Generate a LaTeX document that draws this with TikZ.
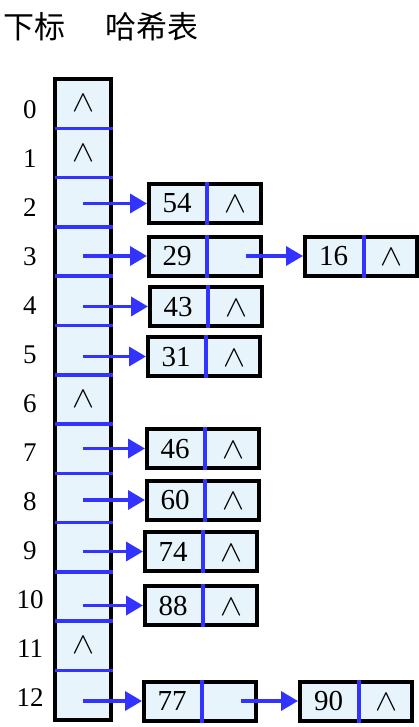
\documentclass[tikz,border=0pt]{standalone}
\usepackage{fontspec}
\setmainfont{Liberation Serif}
\newfontfamily\cjk{Noto Sans CJK SC}
\usetikzlibrary{arrows.meta,calc,shapes.multipart}
\definecolor{cellblue}{RGB}{232,244,252}
\definecolor{ptrblue}{RGB}{51,51,255}
\newcommand{\pstrut}{\rule[-10pt]{0pt}{39pt}}
\newcommand{\nul}{{\fontsize{10}{10}\selectfont\scalebox{3.3}[3.0]{$\wedge$}}}
\tikzset{%
  slot/.style={rectangle, fill=cellblue, minimum width=56pt,
    minimum height=49.27pt, inner sep=0pt},
  elem/.style={rectangle split, rectangle split horizontal,
    rectangle split parts=2, rectangle split draw splits=false,
    draw=black, line width=4pt, fill=cellblue, inner sep=0pt,
    font=\fontsize{29}{29}\selectfont},
  ptr/.style={line width=3.5pt, ptrblue, -{Triangle[length=17pt,width=19pt]}},
  split/.style={line width=3.5pt, ptrblue},
  idx/.style={font=\fontsize{27}{27}\selectfont},
  title/.style={font=\cjk\fontsize{31}{31}\selectfont},
}

\begin{document}
\begin{tikzpicture}[x=1pt,y=-1pt]
    \useasboundingbox (0,0) rectangle (418,727);

    \node[title] (t1) at (34,27) {下标};
    \node[title] (t2) at (152,27) {哈希表};

    % the table
    \foreach \i in {0,...,12} {
      \node[slot] (c\i) at (83, {103.6+49.27*\i}) {};
      \node[idx] (l\i) at (30, {110+49*\i}) {\i};
    }
    \draw[line width=4pt] (c0.north west) rectangle (c12.south east);
    \foreach \i in {0,...,11}
      \draw[split] (c\i.south west) -- ([xshift=2pt]c\i.south east);
    \foreach \i in {0,1,6,11}
      \node (e\i) at (c\i) {\nul};

    % chains of one element
    \foreach \v/\x/\y/\r in {54/205/203.5/2, 43/206/306.5/4, 31/204/356.5/5,
        46/203/448.5/7, 60/203/500/8, 74/201/551.5/9, 88/201/605.5/10} {
      \node[elem] (n\v) at (\x,\y)
        {\makebox[56pt]{\pstrut\v}\nodepart{two}\makebox[52pt]{\pstrut\nul}};
      \draw[split] (n\v.one split north) -- (n\v.one split south);
      \draw[ptr] (c\r.center |- n\v.west) -- (n\v.west);
    }

    % chains of two elements
    \foreach \v/\w/\x/\y/\r in {29/16/205/256/3, 77/90/200/701/12} {
      \node[elem] (n\v) at (\x,\y)
        {\makebox[56pt]{\pstrut\v}\nodepart{two}\makebox[52pt]{\pstrut}};
      \node[elem] (n\w) at (\x+156,\y)
        {\makebox[57pt]{\pstrut\w}\nodepart{two}\makebox[51pt]{\pstrut\nul}};
      \draw[split] (n\v.one split north) -- (n\v.one split south);
      \draw[split] (n\w.one split north) -- (n\w.one split south);
      \draw[ptr] (c\r.center |- n\v.west) -- (n\v.west);
      \draw[ptr] ([xshift=-17pt]n\v.east) -- (n\w.west);
    }
\end{tikzpicture}
\end{document}
